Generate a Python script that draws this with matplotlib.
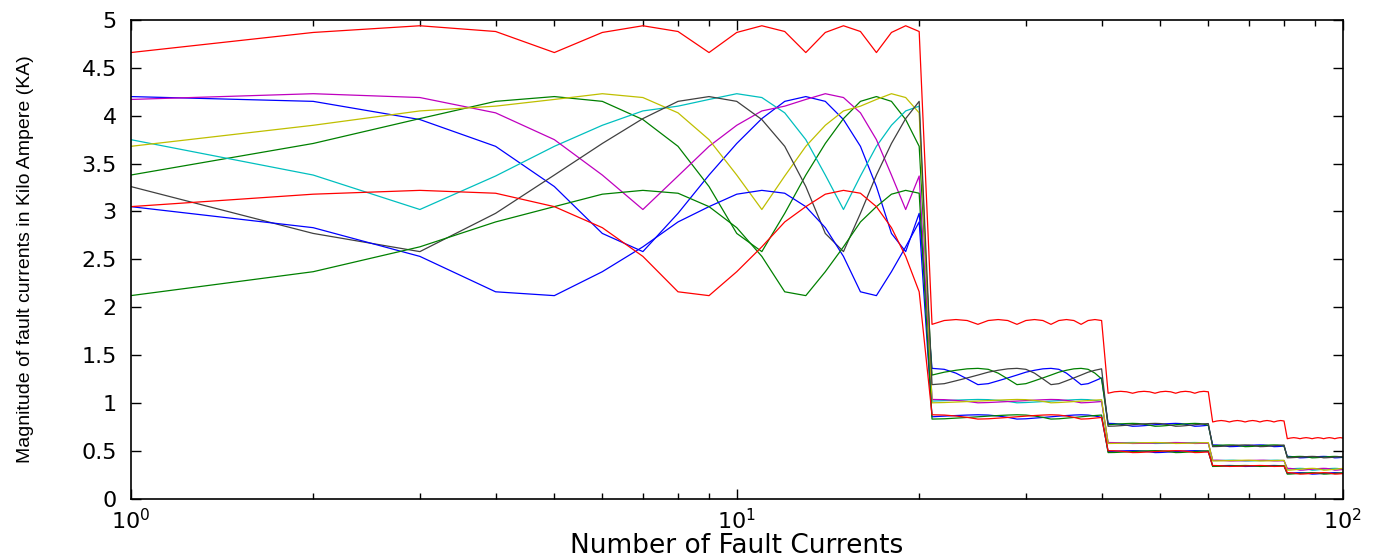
import numpy as np
from matplotlib import pyplot as plt

# number of fault currents (1..100), values in kA
fault_num = np.arange(1, 101)

blue_a = [4.20, 4.15, 3.96, 3.68, 3.26, 2.77, 2.58, 2.98, 3.38, 3.71, 3.97, 4.15, 4.20, 4.15, 3.96, 3.68, 3.26, 2.77, 2.58, 2.98,
          1.36, 1.35, 1.31, 1.25, 1.19, 1.20, 1.23, 1.26, 1.29, 1.32, 1.34, 1.355, 1.36, 1.35, 1.31, 1.25, 1.19, 1.20, 1.23, 1.26,
          0.785, 0.783, 0.776, 0.766, 0.755, 0.757, 0.761, 0.766, 0.771, 0.776, 0.78, 0.783, 0.785, 0.783, 0.776, 0.766, 0.755, 0.757, 0.761, 0.766,
          0.56, 0.559, 0.555, 0.549, 0.542, 0.543, 0.545, 0.548, 0.551, 0.554, 0.557, 0.559, 0.56, 0.559, 0.555, 0.549, 0.542, 0.543, 0.545, 0.548,
          0.44, 0.439, 0.436, 0.431, 0.425, 0.426, 0.428, 0.43, 0.433, 0.435, 0.437, 0.439, 0.44, 0.439, 0.436, 0.431, 0.425, 0.426, 0.428, 0.43]

green_a = [3.38, 3.71, 3.97, 4.15, 4.20, 4.15, 3.96, 3.68, 3.26, 2.77, 2.58, 2.98, 3.38, 3.71, 3.97, 4.15, 4.20, 4.15, 3.96, 3.68,
           1.29, 1.32, 1.34, 1.355, 1.36, 1.35, 1.31, 1.25, 1.19, 1.20, 1.23, 1.26, 1.29, 1.32, 1.34, 1.355, 1.36, 1.35, 1.31, 1.25,
           0.771, 0.776, 0.78, 0.783, 0.785, 0.783, 0.776, 0.766, 0.755, 0.757, 0.761, 0.766, 0.771, 0.776, 0.78, 0.783, 0.785, 0.783, 0.776, 0.766,
           0.551, 0.554, 0.557, 0.559, 0.56, 0.559, 0.555, 0.549, 0.542, 0.543, 0.545, 0.548, 0.551, 0.554, 0.557, 0.559, 0.56, 0.559, 0.555, 0.549,
           0.433, 0.435, 0.437, 0.439, 0.44, 0.439, 0.436, 0.431, 0.425, 0.426, 0.428, 0.43, 0.433, 0.435, 0.437, 0.439, 0.44, 0.439, 0.436, 0.431]

gray_a = [3.26, 2.77, 2.58, 2.98, 3.38, 3.71, 3.97, 4.15, 4.20, 4.15, 3.96, 3.68, 3.26, 2.77, 2.58, 2.98, 3.38, 3.71, 3.97, 4.15,
          1.19, 1.20, 1.23, 1.26, 1.29, 1.32, 1.34, 1.355, 1.36, 1.35, 1.31, 1.25, 1.19, 1.20, 1.23, 1.26, 1.29, 1.32, 1.34, 1.355,
          0.755, 0.757, 0.761, 0.766, 0.771, 0.776, 0.78, 0.783, 0.785, 0.783, 0.776, 0.766, 0.755, 0.757, 0.761, 0.766, 0.771, 0.776, 0.78, 0.783,
          0.542, 0.543, 0.545, 0.548, 0.551, 0.554, 0.557, 0.559, 0.56, 0.559, 0.555, 0.549, 0.542, 0.543, 0.545, 0.548, 0.551, 0.554, 0.557, 0.559,
          0.425, 0.426, 0.428, 0.43, 0.433, 0.435, 0.437, 0.439, 0.44, 0.439, 0.436, 0.431, 0.425, 0.426, 0.428, 0.43, 0.433, 0.435, 0.437, 0.439]

red_top = [4.66, 4.87, 4.94, 4.88, 4.66, 4.87, 4.94, 4.88, 4.66, 4.87, 4.94, 4.88, 4.66, 4.87, 4.94, 4.88, 4.66, 4.87, 4.94, 4.88,
           1.82, 1.86, 1.87, 1.86, 1.82, 1.86, 1.87, 1.86, 1.82, 1.86, 1.87, 1.86, 1.82, 1.86, 1.87, 1.86, 1.82, 1.86, 1.87, 1.86,
           1.10, 1.115, 1.12, 1.115, 1.10, 1.115, 1.12, 1.115, 1.10, 1.115, 1.12, 1.115, 1.10, 1.115, 1.12, 1.115, 1.10, 1.115, 1.12, 1.115,
           0.80, 0.81, 0.815, 0.81, 0.80, 0.81, 0.815, 0.81, 0.80, 0.81, 0.815, 0.81, 0.80, 0.81, 0.815, 0.81, 0.80, 0.81, 0.815, 0.81,
           0.625, 0.632, 0.636, 0.632, 0.625, 0.632, 0.636, 0.632, 0.625, 0.632, 0.636, 0.632, 0.625, 0.632, 0.636, 0.632, 0.625, 0.632, 0.636, 0.632]

magenta_b = [4.17, 4.23, 4.19, 4.03, 3.75, 3.38, 3.02, 3.37, 3.68, 3.90, 4.05, 4.10, 4.17, 4.23, 4.19, 4.03, 3.75, 3.38, 3.02, 3.37,
             1.035, 1.033, 1.025, 1.015, 1.0, 1.003, 1.008, 1.013, 1.018, 1.023, 1.028, 1.032, 1.035, 1.033, 1.025, 1.015, 1.0, 1.003, 1.008, 1.013,
             0.585, 0.584, 0.582, 0.579, 0.575, 0.576, 0.577, 0.578, 0.58, 0.582, 0.583, 0.584, 0.585, 0.584, 0.582, 0.579, 0.575, 0.576, 0.577, 0.578,
             0.4, 0.4, 0.398, 0.396, 0.393, 0.393, 0.394, 0.395, 0.396, 0.397, 0.398, 0.399, 0.4, 0.4, 0.398, 0.396, 0.393, 0.393, 0.394, 0.395,
             0.315, 0.314, 0.31, 0.304, 0.296, 0.297, 0.3, 0.303, 0.306, 0.309, 0.312, 0.314, 0.315, 0.314, 0.31, 0.304, 0.296, 0.297, 0.3, 0.303]

cyan_b = [3.75, 3.38, 3.02, 3.37, 3.68, 3.90, 4.05, 4.10, 4.17, 4.23, 4.19, 4.03, 3.75, 3.38, 3.02, 3.37, 3.68, 3.90, 4.05, 4.10,
          1.018, 1.023, 1.028, 1.032, 1.035, 1.033, 1.025, 1.015, 1.0, 1.003, 1.008, 1.013, 1.018, 1.023, 1.028, 1.032, 1.035, 1.033, 1.025, 1.015,
          0.58, 0.582, 0.583, 0.584, 0.585, 0.584, 0.582, 0.579, 0.575, 0.576, 0.577, 0.578, 0.58, 0.582, 0.583, 0.584, 0.585, 0.584, 0.582, 0.579,
          0.396, 0.397, 0.398, 0.399, 0.4, 0.4, 0.398, 0.396, 0.393, 0.393, 0.394, 0.395, 0.396, 0.397, 0.398, 0.399, 0.4, 0.4, 0.398, 0.396,
          0.306, 0.309, 0.312, 0.314, 0.315, 0.314, 0.31, 0.304, 0.296, 0.297, 0.3, 0.303, 0.306, 0.309, 0.312, 0.314, 0.315, 0.314, 0.31, 0.304]

yellow_b = [3.68, 3.90, 4.05, 4.10, 4.17, 4.23, 4.19, 4.03, 3.75, 3.38, 3.02, 3.37, 3.68, 3.90, 4.05, 4.10, 4.17, 4.23, 4.19, 4.03,
            1.0, 1.003, 1.008, 1.013, 1.018, 1.023, 1.028, 1.032, 1.035, 1.033, 1.025, 1.015, 1.0, 1.003, 1.008, 1.013, 1.018, 1.023, 1.028, 1.032,
            0.575, 0.576, 0.577, 0.578, 0.58, 0.582, 0.583, 0.584, 0.585, 0.584, 0.582, 0.579, 0.575, 0.576, 0.577, 0.578, 0.58, 0.582, 0.583, 0.584,
            0.393, 0.393, 0.394, 0.395, 0.396, 0.397, 0.398, 0.399, 0.4, 0.4, 0.398, 0.396, 0.393, 0.393, 0.394, 0.395, 0.396, 0.397, 0.398, 0.399,
            0.296, 0.297, 0.3, 0.303, 0.306, 0.309, 0.312, 0.314, 0.315, 0.314, 0.31, 0.304, 0.296, 0.297, 0.3, 0.303, 0.306, 0.309, 0.312, 0.314]

red_c = [3.05, 3.18, 3.22, 3.19, 3.05, 2.83, 2.53, 2.16, 2.12, 2.37, 2.63, 2.89, 3.05, 3.18, 3.22, 3.19, 3.05, 2.83, 2.53, 2.16,
         0.875, 0.872, 0.862, 0.848, 0.83, 0.833, 0.84, 0.847, 0.854, 0.861, 0.867, 0.872, 0.875, 0.872, 0.862, 0.848, 0.83, 0.833, 0.84, 0.847,
         0.5, 0.499, 0.495, 0.488, 0.48, 0.481, 0.484, 0.487, 0.49, 0.494, 0.497, 0.499, 0.5, 0.499, 0.495, 0.488, 0.48, 0.481, 0.484, 0.487,
         0.345, 0.344, 0.342, 0.339, 0.335, 0.336, 0.337, 0.338, 0.34, 0.341, 0.343, 0.344, 0.345, 0.344, 0.342, 0.339, 0.335, 0.336, 0.337, 0.338,
         0.27, 0.269, 0.266, 0.261, 0.255, 0.256, 0.258, 0.26, 0.263, 0.265, 0.267, 0.269, 0.27, 0.269, 0.266, 0.261, 0.255, 0.256, 0.258, 0.26]

blue_c = [3.05, 2.83, 2.53, 2.16, 2.12, 2.37, 2.63, 2.89, 3.05, 3.18, 3.22, 3.19, 3.05, 2.83, 2.53, 2.16, 2.12, 2.37, 2.63, 2.89,
          0.854, 0.861, 0.867, 0.872, 0.875, 0.872, 0.862, 0.848, 0.83, 0.833, 0.84, 0.847, 0.854, 0.861, 0.867, 0.872, 0.875, 0.872, 0.862, 0.848,
          0.49, 0.494, 0.497, 0.499, 0.5, 0.499, 0.495, 0.488, 0.48, 0.481, 0.484, 0.487, 0.49, 0.494, 0.497, 0.499, 0.5, 0.499, 0.495, 0.488,
          0.34, 0.341, 0.343, 0.344, 0.345, 0.344, 0.342, 0.339, 0.335, 0.336, 0.337, 0.338, 0.34, 0.341, 0.343, 0.344, 0.345, 0.344, 0.342, 0.339,
          0.263, 0.265, 0.267, 0.269, 0.27, 0.269, 0.266, 0.261, 0.255, 0.256, 0.258, 0.26, 0.263, 0.265, 0.267, 0.269, 0.27, 0.269, 0.266, 0.261]

green_c = [2.12, 2.37, 2.63, 2.89, 3.05, 3.18, 3.22, 3.19, 3.05, 2.83, 2.53, 2.16, 2.12, 2.37, 2.63, 2.89, 3.05, 3.18, 3.22, 3.19,
           0.83, 0.833, 0.84, 0.847, 0.854, 0.861, 0.867, 0.872, 0.875, 0.872, 0.862, 0.848, 0.83, 0.833, 0.84, 0.847, 0.854, 0.861, 0.867, 0.872,
           0.48, 0.481, 0.484, 0.487, 0.49, 0.494, 0.497, 0.499, 0.5, 0.499, 0.495, 0.488, 0.48, 0.481, 0.484, 0.487, 0.49, 0.494, 0.497, 0.499,
           0.335, 0.336, 0.337, 0.338, 0.34, 0.341, 0.343, 0.344, 0.345, 0.344, 0.342, 0.339, 0.335, 0.336, 0.337, 0.338, 0.34, 0.341, 0.343, 0.344,
           0.255, 0.256, 0.258, 0.26, 0.263, 0.265, 0.267, 0.269, 0.27, 0.269, 0.266, 0.261, 0.255, 0.256, 0.258, 0.26, 0.263, 0.265, 0.267, 0.269]

# old matlab colour order b g r c m y k
series = [(blue_a, (0, 0, 1)), (green_a, (0, 0.5, 0)), (red_top, (1, 0, 0)),
          (cyan_b, (0, 0.75, 0.75)), (magenta_b, (0.75, 0, 0.75)), (yellow_b, (0.75, 0.75, 0)),
          (gray_a, (0.25, 0.25, 0.25)), (blue_c, (0, 0, 1)), (green_c, (0, 0.5, 0)), (red_c, (1, 0, 0))]

fig = plt.figure(figsize=(13.85, 5.56), dpi=100)
ax = fig.add_axes([0.0944, 0.1034, 0.8751, 0.8606])

for vals, col in series:
    ax.semilogx(fault_num, vals, color=col, linewidth=0.9)

ax.set_xlim(1, 100)
ax.set_ylim(0, 5)
ax.set_yticks(np.arange(0, 5.01, 0.5))
ax.set_yticklabels(['0', '0.5', '1', '1.5', '2', '2.5', '3', '3.5', '4', '4.5', '5'])

ax.tick_params(which='both', direction='in', top=True, right=True, labelsize=16)
ax.tick_params(which='major', length=7, width=1, pad=10)
ax.tick_params(which='minor', length=4, width=1)
ax.tick_params(axis='x', which='major', pad=7, labelsize=16)
for sp in ax.spines.values():
    sp.set_linewidth(1.2)

ax.set_xlabel('Number of Fault Currents', fontsize=19, va='baseline')
ax.xaxis.set_label_coords(0.5, -0.113)
ax.set_ylabel('Magnitude of fault currents in Kilo Ampere (KA)', fontsize=14,
              family='Liberation Sans', va='center')
ax.yaxis.set_label_coords(-0.087, 0.5)

fig.savefig('out.png', dpi=100)
